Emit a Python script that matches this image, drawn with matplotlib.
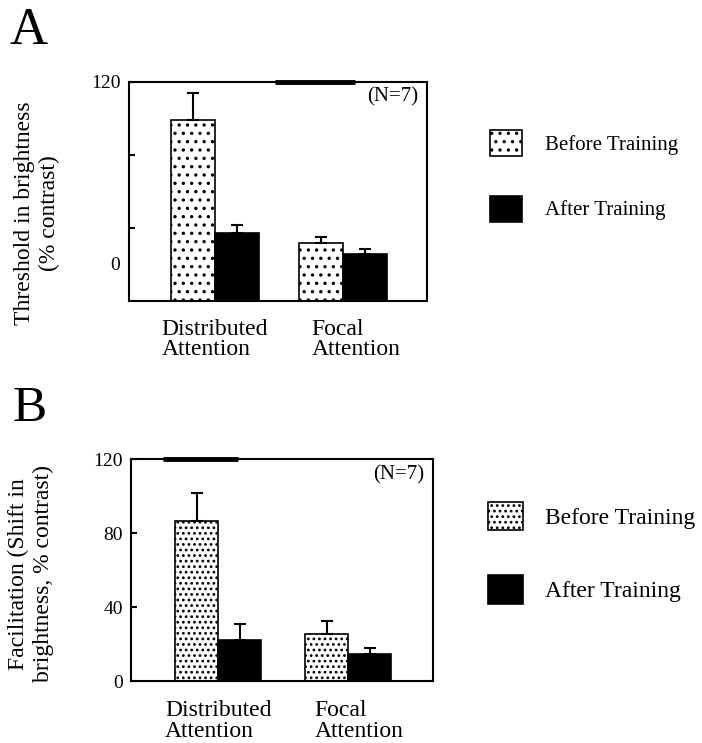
import matplotlib
matplotlib.use("Agg")
import matplotlib.pyplot as plt
import numpy as np

plt.rcParams['font.family'] = ['Liberation Serif', 'DejaVu Serif']
plt.rcParams['hatch.linewidth'] = 1.2

# values (% contrast), read per condition
conditions = ["Distributed\nAttention", "Focal\nAttention"]
series = ["Before Training", "After Training"]

thresh_before = [99, 32]
thresh_before_err = [15, 3]
thresh_after = [37.5, 25.5]
thresh_after_err = [4, 3]

facil_before = [86.5, 25.5]
facil_before_err = [15, 7]
facil_after = [22, 14.5]
facil_after_err = [8.7, 3.5]

W, H = 702, 743
fig = plt.figure(figsize=(W / 100, H / 100), dpi=100)


def px_axes(left, top, right, bottom):
    return fig.add_axes([left / W, 1 - bottom / H, (right - left) / W, (bottom - top) / H])


def draw_panel(ax, before, before_err, after, after_err, width, hatch, xlim):
    x = np.arange(len(conditions))
    ax.bar(x - width / 2, before, width, color='white', edgecolor='black',
           hatch=hatch, linewidth=1.2, label=series[0], zorder=2)
    ax.bar(x + width / 2, after, width, color='black', edgecolor='black',
           linewidth=1.2, label=series[1], zorder=2)
    ax.errorbar(x - width / 2, before, yerr=[np.zeros(len(x)), before_err],
                fmt='none', ecolor='black', elinewidth=1.5, capsize=4, capthick=1.5, zorder=3)
    ax.errorbar(x + width / 2, after, yerr=[np.zeros(len(x)), after_err],
                fmt='none', ecolor='black', elinewidth=1.5, capsize=4, capthick=1.5, zorder=3)
    ax.set_xlim(*xlim)
    ax.set_ylim(0, 120)
    for s in ax.spines.values():
        s.set_linewidth(1.5)
    return x


def set_categories(ax, x, pad):
    ax.set_xticks(x, conditions)
    for lab in ax.get_xticklabels():
        lab.set_fontsize(17)
        lab.set_multialignment('left')
        lab.set_linespacing(0.95)
    ax.tick_params(axis='x', length=0, pad=pad)


# category labels sit slightly right of the second group's centre
label_shift = np.array([0.0, 0.1])

# ---- panel A ----
axA = px_axes(129, 82, 427, 301)
xA = draw_panel(axA, thresh_before, thresh_before_err, thresh_after, thresh_after_err,
                0.344, '..', (-0.672, 1.656))
set_categories(axA, xA + label_shift, 13)
axA.set_yticks([40, 80, 120], ['', '', '120'], fontsize=14)
axA.tick_params(axis='y', direction='in', length=4, width=1.5, pad=6)
axA.text(-0.03, 0.16, '0', transform=axA.transAxes, ha='right', va='center', fontsize=14)
axA.text(0.97, 0.93, '(N=7)', transform=axA.transAxes, ha='right', va='center', fontsize=15)
axA.plot([0.49, 0.758], [1, 1], transform=axA.transAxes, color='black', lw=3.5,
         clip_on=False, solid_capstyle='butt')
fig.text(37 / W, 1 - 213 / H, "Threshold in brightness\n(% contrast)", rotation=90,
         ha='center', va='center', fontsize=17, multialignment='center')
fig.text(10 / W, 1 - 31 / H, "A", fontsize=38, ha='left', va='center')
axA.legend(loc='upper left', bbox_to_anchor=(490 / W, 1 - 130 / H), bbox_transform=fig.transFigure,
           frameon=False, fontsize=15, handlelength=1.54, handleheight=1.54,
           labelspacing=1.9, handletextpad=1.1, borderpad=0, borderaxespad=0)

# ---- panel B ----
axB = px_axes(131, 459, 433, 681)
xB = draw_panel(axB, facil_before, facil_before_err, facil_after, facil_after_err,
                0.33, '...', (-0.67, 1.65))
set_categories(axB, xB + label_shift * 0.8, 14)
axB.set_yticks([0, 40, 80, 120], ['0', '40', '80', '120'], fontsize=14)
axB.tick_params(axis='y', direction='in', length=4, width=1.5, pad=6)
axB.text(0.97, 0.93, '(N=7)', transform=axB.transAxes, ha='right', va='center', fontsize=15)
axB.plot([0.106, 0.355], [1, 1], transform=axB.transAxes, color='black', lw=3.5,
         clip_on=False, solid_capstyle='butt')
fig.text(31 / W, 1 - 574 / H, "Facilitation (Shift in\nbrightness, % contrast)", rotation=90,
         ha='center', va='center', fontsize=17, multialignment='center')
fig.text(13 / W, 1 - 409 / H, "B", fontsize=37, ha='left', va='center')
axB.legend(loc='upper left', bbox_to_anchor=(488 / W, 1 - 502 / H), bbox_transform=fig.transFigure,
           frameon=False, fontsize=17, handlelength=1.48, handleheight=1.48,
           labelspacing=1.9, handletextpad=0.93, borderpad=0, borderaxespad=0)

fig.savefig("out.png", dpi=100, facecolor='white')
